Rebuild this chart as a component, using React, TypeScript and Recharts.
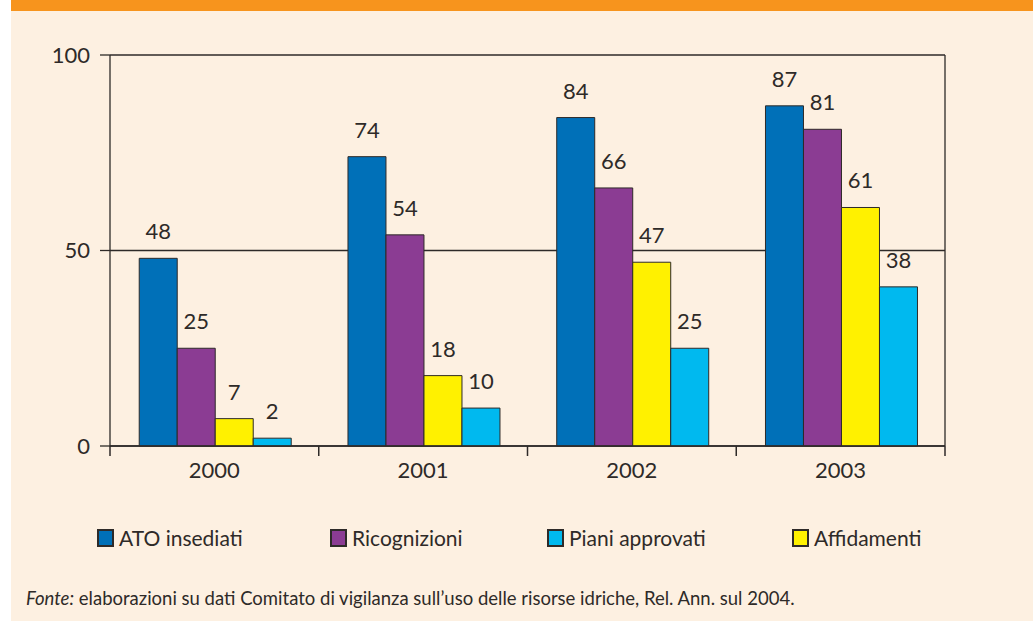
import { BarChart, Bar, XAxis, YAxis, CartesianGrid, Legend, LabelList } from 'recharts'

const YEARS = ['2000', '2001', '2002', '2003']
const ATO_INSEDIATI = [48, 74, 84, 87]
const RICOGNIZIONI = [25, 54, 66, 81]
const AFFIDAMENTI = [7, 18, 47, 61]
const PIANI_APPROVATI = [2, 9.7, 25, 40.7]
const PIANI_LABELS = [2, 10, 25, 38]
const Y_TICKS = [0, 50, 100]

const BLUE = '#0070b8'
const PURPLE = '#8b3c93'
const YELLOW = '#fff100'
const CYAN = '#00b9ef'
const INK = '#2e2a28'
const CREAM = '#fdf0e1'
const FONT = 'Lato, "DejaVu Sans", sans-serif'

const data = YEARS.map((year, i) => ({
  year,
  ato: ATO_INSEDIATI[i],
  ric: RICOGNIZIONI[i],
  aff: AFFIDAMENTI[i],
  piani: PIANI_APPROVATI[i],
  pianiLabel: PIANI_LABELS[i],
}))

// legend order differs from the bar order in the original
const LEGEND_ITEMS = [
  { label: 'ATO insediati', color: BLUE },
  { label: 'Ricognizioni', color: PURPLE },
  { label: 'Piani approvati', color: CYAN },
  { label: 'Affidamenti', color: YELLOW },
]
const LEGEND_X = [97, 330, 547, 792]

const TICK_SIZE = 10
const TICK_MARGIN = 5

const renderLegend = () => (
  <div style={{ position: 'relative', height: 30, width: 1033 }}>
    {LEGEND_ITEMS.map((it, i) => (
      <div key={it.label} style={{ position: 'absolute', left: LEGEND_X[i], top: 0, display: 'flex', alignItems: 'center' }}>
        <span style={{ width: 13, height: 14, background: it.color, border: `2px solid ${INK}`, display: 'inline-block' }} />
        <span style={{ marginLeft: 5, fontSize: 21, color: INK, fontFamily: FONT, lineHeight: '30px' }}>{it.label}</span>
      </div>
    ))}
  </div>
)

// year label plus tick marks on the category edges (not the centres)
const YearTick = (props: any) => {
  const { x, y, payload, width, visibleTicksCount, index } = props
  const half = width / visibleTicksCount / 2
  const y0 = y - TICK_SIZE - TICK_MARGIN
  const y1 = y0 + TICK_SIZE
  return (
    <g>
      <line x1={x - half} x2={x - half} y1={y0} y2={y1} stroke={INK} strokeWidth={1.5} />
      {index === visibleTicksCount - 1 && (
        <line x1={x + half} x2={x + half} y1={y0} y2={y1} stroke={INK} strokeWidth={1.5} />
      )}
      <text x={x} y={y} dy="0.75em" textAnchor="middle" fontSize={22} fill={INK} fontFamily={FONT}>
        {payload.value}
      </text>
    </g>
  )
}

const labelStyle = { fontSize: 22, fill: INK, fontFamily: FONT }
const axisTick = { fontSize: 22, fill: INK, fontFamily: FONT }

export default function App() {
  return (
    <div style={{ position: 'fixed', left: 0, top: 0, width: 1033, height: 621, background: '#fff', overflow: 'hidden' }}>
      <div style={{ position: 'absolute', left: 11, top: 0, width: 1022, height: 11, background: '#f7941d' }} />
      <div style={{ position: 'absolute', left: 11, top: 11, width: 1022, height: 610, background: CREAM }} />
      <div style={{ position: 'absolute', left: 0, top: 0 }}>
        <BarChart
          width={1033}
          height={621}
          data={data}
          margin={{ top: 55, right: 87, left: 0, bottom: 105 }}
          barCategoryGap="14%"
          barGap={0}
        >
          <CartesianGrid vertical={false} stroke={INK} strokeWidth={1.3} />
          <XAxis
            dataKey="year"
            height={40}
            tickLine={false}
            tickSize={TICK_SIZE}
            tickMargin={TICK_MARGIN}
            tick={<YearTick />}
            interval={0}
            stroke={INK}
            strokeWidth={1.5}
          />
          <YAxis
            width={110}
            domain={[0, 100]}
            ticks={Y_TICKS}
            tickSize={10}
            tickMargin={10}
            tick={axisTick}
            stroke={INK}
            strokeWidth={1.3}
          />
          <YAxis yAxisId="r" orientation="right" width={1} domain={[0, 100]} tick={false} tickLine={false} stroke={INK} strokeWidth={1.3} />
          <Legend content={renderLegend} wrapperStyle={{ left: 0, top: 523, width: 1033, height: 30 }} />
          <Bar dataKey="ato" name="ATO insediati" fill={BLUE} stroke={INK} strokeWidth={1} isAnimationActive={false}>
            <LabelList dataKey="ato" position="top" offset={19} style={labelStyle} />
          </Bar>
          <Bar dataKey="ric" name="Ricognizioni" fill={PURPLE} stroke={INK} strokeWidth={1} isAnimationActive={false}>
            <LabelList dataKey="ric" position="top" offset={19} style={labelStyle} />
          </Bar>
          <Bar dataKey="aff" name="Affidamenti" fill={YELLOW} stroke={INK} strokeWidth={1} isAnimationActive={false}>
            <LabelList dataKey="aff" position="top" offset={19} style={labelStyle} />
          </Bar>
          <Bar dataKey="piani" name="Piani approvati" fill={CYAN} stroke={INK} strokeWidth={1} isAnimationActive={false}>
            <LabelList dataKey="pianiLabel" position="top" offset={19} style={labelStyle} />
          </Bar>
        </BarChart>
      </div>
      <div style={{ position: 'absolute', left: 26, top: 587, fontSize: 18.5, color: INK, fontFamily: FONT, whiteSpace: 'nowrap' }}>
        <i>Fonte:</i> elaborazioni su dati Comitato di vigilanza sull’uso delle risorse idriche, Rel. Ann. sul 2004.
      </div>
    </div>
  )
}
